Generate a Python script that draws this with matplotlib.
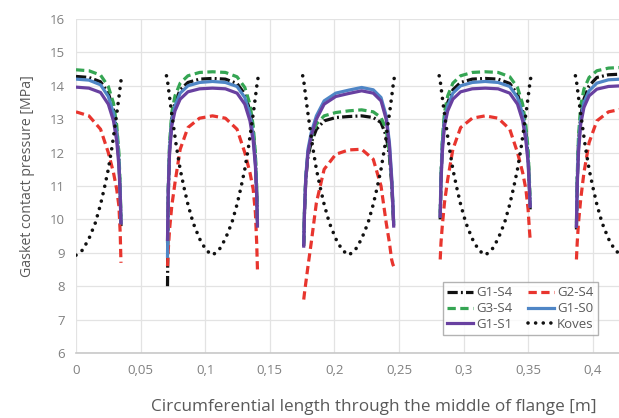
import matplotlib
matplotlib.use("Agg")
import matplotlib.pyplot as plt
from matplotlib.ticker import FuncFormatter

# segment centres along the flange [m] and offsets of the sample points inside one segment
seg_centres = [0.0, 0.1056, 0.2110, 0.3166, 0.4220]
seg_offsets = [-0.0348, -0.0342, -0.0332, -0.0315, -0.0290, -0.0250, -0.0190, -0.0100, 0.0,
               0.0100, 0.0190, 0.0250, 0.0290, 0.0315, 0.0332, 0.0342, 0.0348]

# contact pressure [MPa], one list per segment (first one: right half, last one: left half)
g1_s4 = [
    [14.28, 14.25, 14.12, 13.78, 13.28, 12.62, 11.8, 10.8, 9.8],
    [8.0, 10.7, 12.1, 13.0, 13.5, 13.88, 14.1, 14.2, 14.22, 14.2, 14.07, 13.75, 13.25, 12.6, 11.8, 10.8, 9.8],
    [9.2, 10.2, 11.2, 11.9, 12.3, 12.7, 12.95, 13.05, 13.08, 13.1, 13.05, 12.9, 12.5, 11.9, 11.1, 10.3, 9.8],
    [10.0, 11.2, 12.2, 13.0, 13.5, 13.88, 14.1, 14.2, 14.22, 14.2, 14.07, 13.75, 13.25, 12.6, 11.9, 11.0, 10.3],
    [9.7, 11.1, 12.3, 13.1, 13.6, 14.0, 14.25, 14.33, 14.35],
]
g2_s4 = [
    [13.22, 13.1, 12.7, 12.0, 11.4, 10.9, 10.4, 9.6, 8.7],
    [8.6, 9.1, 9.7, 10.4, 11.1, 12.1, 12.75, 13.03, 13.1, 13.03, 12.7, 12.0, 11.4, 10.9, 10.2, 9.3, 8.5],
    [7.6, 7.8, 8.1, 8.6, 9.3, 10.5, 11.5, 11.95, 12.08, 12.1, 11.8, 11.0, 9.9, 9.3, 8.8, 8.65, 8.6],
    [8.8, 9.3, 9.8, 10.5, 11.2, 12.1, 12.75, 13.03, 13.1, 13.03, 12.7, 12.0, 11.4, 10.9, 10.3, 9.7, 9.4],
    [8.8, 9.3, 9.9, 10.6, 11.4, 12.3, 12.95, 13.22, 13.3],
]
g3_s4 = [
    [14.48, 14.45, 14.32, 13.98, 13.48, 12.82, 12.0, 11.0, 10.0],
    [9.3, 11.0, 12.3, 13.2, 13.7, 14.08, 14.3, 14.4, 14.42, 14.4, 14.27, 13.95, 13.45, 12.8, 12.0, 11.0, 10.0],
    [9.3, 10.3, 11.3, 12.0, 12.45, 12.85, 13.1, 13.2, 13.25, 13.28, 13.22, 13.05, 12.7, 12.0, 11.2, 10.4, 9.9],
    [10.2, 11.3, 12.4, 13.2, 13.7, 14.08, 14.3, 14.4, 14.42, 14.4, 14.27, 13.95, 13.45, 12.8, 12.1, 11.2, 10.5],
    [9.9, 11.3, 12.5, 13.4, 13.9, 14.25, 14.45, 14.53, 14.55],
]
g1_s0 = [
    [14.2, 14.17, 14.03, 13.68, 13.18, 12.55, 11.75, 10.8, 9.9],
    [8.9, 10.9, 12.1, 12.95, 13.4, 13.78, 14.0, 14.1, 14.13, 14.1, 13.98, 13.65, 13.15, 12.5, 11.7, 10.8, 9.9],
    [9.3, 10.3, 11.3, 12.1, 12.6, 13.1, 13.55, 13.78, 13.87, 13.95, 13.88, 13.65, 13.1, 12.3, 11.3, 10.5, 9.9],
    [10.1, 11.2, 12.2, 12.95, 13.4, 13.78, 14.0, 14.1, 14.13, 14.1, 13.98, 13.65, 13.15, 12.5, 11.8, 11.0, 10.4],
    [9.8, 11.1, 12.2, 13.0, 13.5, 13.85, 14.08, 14.18, 14.2],
]
g1_s1 = [
    [13.96, 13.93, 13.8, 13.45, 12.95, 12.35, 11.6, 10.7, 9.9],
    [9.4, 10.9, 12.0, 12.8, 13.25, 13.6, 13.82, 13.91, 13.93, 13.91, 13.78, 13.45, 12.95, 12.35, 11.6, 10.7, 9.8],
    [9.2, 10.2, 11.2, 12.0, 12.5, 13.0, 13.45, 13.68, 13.77, 13.85, 13.78, 13.55, 13.0, 12.2, 11.2, 10.4, 9.8],
    [10.1, 11.1, 12.0, 12.8, 13.25, 13.6, 13.82, 13.91, 13.93, 13.91, 13.78, 13.45, 12.95, 12.35, 11.7, 10.9, 10.4],
    [9.8, 11.0, 12.0, 12.85, 13.35, 13.7, 13.9, 13.98, 14.0],
]

# Koves analytical solution, one segment between bolt holes
koves_offsets = [-0.0356, -0.0348, -0.0335, -0.032, -0.030, -0.028, -0.025, -0.022, -0.019, -0.015,
                 -0.010, -0.005, 0.0, 0.005, 0.010, 0.015, 0.019, 0.022, 0.025, 0.028, 0.030,
                 0.032, 0.0335, 0.0348, 0.0356]
koves_y = [14.3, 14.15, 13.75, 13.3, 12.75, 12.2, 11.5, 10.95, 10.45, 9.9, 9.42, 9.08, 8.93,
           9.08, 9.42, 9.9, 10.45, 10.95, 11.5, 12.2, 12.75, 13.3, 13.75, 14.15, 14.3]

x_ticks = [0, 0.05, 0.1, 0.15, 0.2, 0.25, 0.3, 0.35, 0.4]
y_ticks = [6, 7, 8, 9, 10, 11, 12, 13, 14, 15, 16]

series = [
    ("G1-S4", g1_s4, "#111111", (0, (3.2, 1.0, 0.6, 1.0))),
    ("G2-S4", g2_s4, "#e8352e", (0, (2.6, 1.4))),
    ("G3-S4", g3_s4, "#35a553", (0, (2.6, 1.4))),
    ("G1-S0", g1_s0, "#4f86c6", "-"),
    ("G1-S1", g1_s1, "#6840a0", "-"),
]

plt.rcParams['font.family'] = ['Open Sans', 'DejaVu Sans']

fig = plt.figure(figsize=(6.19, 4.18), dpi=100)
# the original chart is cropped on the right, so the axes run past the figure edge
ax = fig.add_axes([76 / 619, 65 / 418, 581.6 / 619, 334 / 418])

handles = {}
n_half = len(seg_offsets) // 2
for name, segs, col, ls in series:
    for k, ys in enumerate(segs):
        if k == 0:
            offs = seg_offsets[n_half:]
        elif k == len(segs) - 1:
            offs = seg_offsets[:n_half + 1]
        else:
            offs = seg_offsets
        xs = [seg_centres[k] + o for o in offs]
        line, = ax.plot(xs, ys, color=col, linestyle=ls, linewidth=2.3)
    handles[name] = line

n_k = len(koves_offsets) // 2
for k, c in enumerate(seg_centres):
    if k == 0:
        offs, ys = koves_offsets[n_k:], koves_y[n_k:]
    elif k == len(seg_centres) - 1:
        offs, ys = koves_offsets[:n_k + 1], koves_y[:n_k + 1]
    else:
        offs, ys = koves_offsets, koves_y
    line, = ax.plot([c + o for o in offs], ys, color="#111111", linestyle=(0, (0.01, 2.1)),
                    linewidth=2.6, dash_capstyle="round")
handles["Koves"] = line

ax.set_xlim(0, 0.45)
ax.set_ylim(6, 16)
ax.set_xticks(x_ticks)
ax.set_yticks(y_ticks)
ax.xaxis.set_major_formatter(FuncFormatter(lambda v, p: ("%g" % v).replace(".", ",")))
ax.tick_params(length=0, labelsize=9.5, colors="#808080", pad=8)
ax.grid(True, color="#e3e3e3", linewidth=0.9)
ax.set_axisbelow(True)
for s in ["top", "right", "left"]:
    ax.spines[s].set_visible(False)
ax.spines["bottom"].set_color("#c8c8c8")
ax.spines["bottom"].set_linewidth(1.2)

ax.set_xlabel("Circumferential length through the middle of flange [m]", fontsize=12.3, color="#595959")
ax.xaxis.set_label_coords(0.5124, -0.138)
ax.set_ylabel("Gasket contact pressure [MPa]", fontsize=10.2, color="#595959")
ax.yaxis.label.set_verticalalignment("center")
ax.yaxis.set_label_coords(-0.083, 0.53)

order = ["G1-S4", "G3-S4", "G1-S1", "G2-S4", "G1-S0", "Koves"]
leg = ax.legend([handles[n] for n in order], order, ncol=2, fontsize=9.5,
                loc="lower left", bbox_to_anchor=(443 / 619, 83 / 418), bbox_transform=fig.transFigure,
                borderaxespad=0, fancybox=False, handlelength=2.0, handletextpad=0.2,
                columnspacing=1.2, labelspacing=0.22, borderpad=0.3)
leg.get_frame().set_edgecolor("#a0a0a0")
leg.get_frame().set_linewidth(1.0)
for t in leg.get_texts():
    t.set_color("#595959")

plt.savefig("out.png", dpi=100)
